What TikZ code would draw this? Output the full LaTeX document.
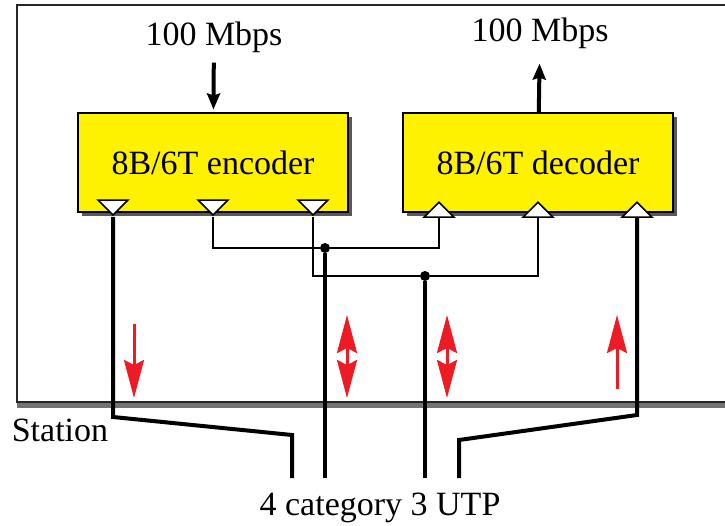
\documentclass[tikz,border=0pt]{standalone}
\usepackage{fontspec}
\setmainfont{Liberation Serif}
\newfontfamily\labelfont{Liberation Serif}
\usepackage{tikz}
\usetikzlibrary{shapes.geometric, arrows.meta, shadows}
\usepackage{xcolor}

\definecolor{boxyellow}{RGB}{255,242,0}
\definecolor{sigred}{RGB}{237,28,36}

\begin{document}
\begin{tikzpicture}[
    x=1pt, y=-1pt,
    coder/.style={rectangle, draw, line width=2pt, fill=boxyellow, minimum width=270pt, minimum height=99pt,
        font=\labelfont\fontsize{34}{38}\selectfont, drop shadow={shadow xshift=4pt, shadow yshift=-4pt, fill=black!65, opacity=1}},
    port/.style={isosceles triangle, isosceles triangle stretches, draw, line width=1.5pt, fill=white,
        minimum height=15pt, minimum width=30pt, inner sep=0pt},
    txt/.style={font=\labelfont\fontsize{34}{38}\selectfont, inner sep=2pt},
    thickwire/.style={line width=4pt},
    thinwire/.style={line width=2pt},
    dot/.style={circle, fill=black, inner sep=0pt, minimum size=10pt},
    rate/.style={line width=4pt, -{Stealth[length=16pt, width=13pt, inset=2pt]}},
    sig/.style={line width=3pt, sigred},
    sighead/.tip={Stealth[length=38pt, width=20pt, inset=5pt]}
]
\useasboundingbox (0,0) rectangle (725,526);

% Station frame
\draw[line width=5pt, black!55] (17,405) -- (725,405);
\draw[line width=2pt, black!85] (725,5) -- (17,5) -- (17,402) -- (725,402);

% Coders
\node[coder] (enc) at (213,163) {8B/6T encoder};
\node[coder] (dec) at (538,163) {8B/6T decoder};

% Rate labels
\node[txt] (inrate) at (214,37) {100 Mbps};
\node[txt] (outrate) at (540,33) {100 Mbps};

% Ports: encoder (down), decoder (up)
\node[port, rotate=-90, anchor=apex] (e1) at (113,217) {};
\node[port, rotate=-90, anchor=apex] (e2) at (213,217) {};
\node[port, rotate=-90, anchor=apex] (e3) at (313,217) {};
\node[port, rotate=90, anchor=lower side] (d1) at (439,218) {};
\node[port, rotate=90, anchor=lower side] (d2) at (538,218) {};
\node[port, rotate=90, anchor=lower side] (d3) at (637,218) {};

% Junctions
\node[dot] (j1) at (325,248) {};
\node[dot] (j2) at (425,276) {};

% Wire ends and bends
\coordinate (b1) at (113,417);
\coordinate (b2) at (292,435);
\coordinate (w1) at (292,478);
\coordinate (w2) at (325,478);
\coordinate (w3) at (425,478);
\coordinate (b3) at (637,415);
\coordinate (b4) at (459,440);
\coordinate (w4) at (459,478);

% Labels
\node[txt] (station) at (60,430) {Station};
\node[txt] (utp) at (380,508) {4 category 3 UTP};

% Rate arrows
\draw[rate, shorten <=8pt, shorten >=3pt] (inrate) -- (enc);
\draw[rate, shorten >=13pt] (dec) -- (outrate);

% Edges: thin links
\draw[thinwire] (e2.apex) |- (j1) -| (d1.lower side);
\draw[thinwire] (e3.apex) |- (j2) -| (d2.lower side);

% Edges: pairs
\draw[thickwire] (e1.apex) -- (b1) -- (b2) -- (w1);
\draw[thickwire] (j1) -- (w2);
\draw[thickwire] (j2) -- (w3);
\draw[thickwire] (d3.lower side) -- (b3) -- (b4) -- (w4);

% Signal directions
\draw[sig, -sighead] (134,324) -- (134,398);
\draw[sig, sighead-sighead] (347,315) -- (347,398);
\draw[sig, sighead-sighead] (447,315) -- (447,398);
\draw[sig, -sighead] (617,389) -- (617,315);

\end{tikzpicture}
\end{document}
